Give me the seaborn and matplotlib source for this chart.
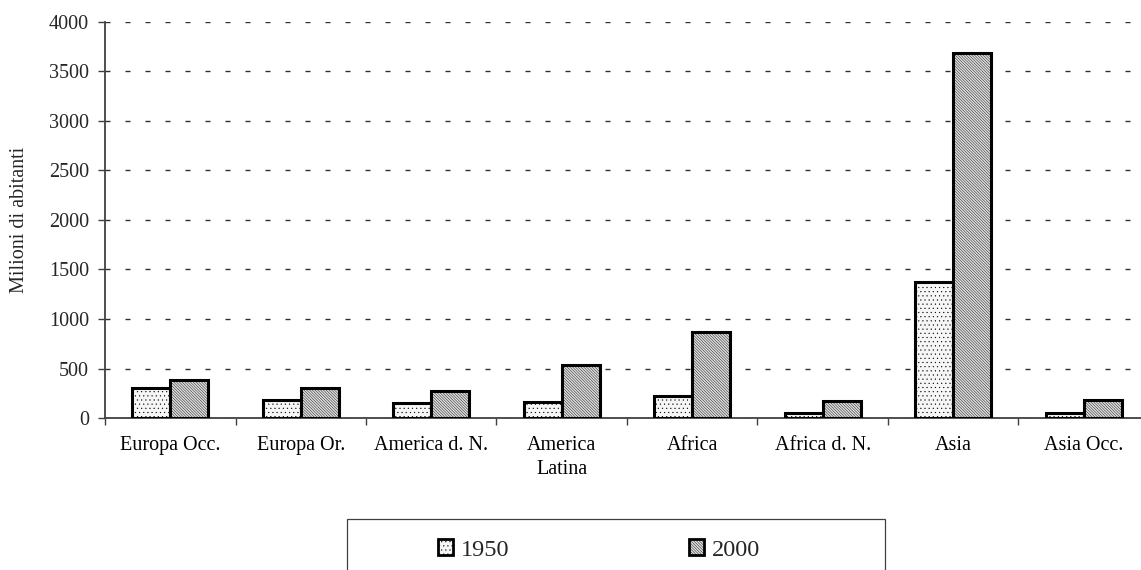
import matplotlib
matplotlib.use("Agg")
import matplotlib.pyplot as plt
import seaborn as sns
import pandas as pd
from matplotlib.patches import Patch, Rectangle
from matplotlib.ticker import FixedLocator, NullFormatter

# Popolazione per area geografica (milioni di abitanti)
categories = ["Europa Occ.", "Europa Or.", "America d. N.", "America\nLatina",
              "Africa", "Africa d. N.", "Asia", "Asia Occ."]
years = ["1950", "2000"]
pop_1950 = [302, 184, 147, 161, 224, 50, 1370, 50]
pop_2000 = [386, 308, 268, 535, 873, 174, 3690, 184]
y_ticks = [0, 500, 1000, 1500, 2000, 2500, 3000, 3500, 4000]

df = pd.DataFrame({
    "Area": categories * 2,
    "Anno": [years[0]] * len(categories) + [years[1]] * len(categories),
    "Abitanti": pop_1950 + pop_2000,
})

sns.set_style("white")
plt.rcParams["font.family"] = ["Liberation Serif", "DejaVu Serif"]
plt.rcParams["hatch.linewidth"] = 0.3

W, H = 1141, 570
fig = plt.figure(figsize=(W / 100, H / 100), dpi=100)
ax = fig.add_axes([105 / W, (H - 418) / H, 1044 / W, 396 / H])

face = {"1950": "#f6f6f6", "2000": "#dedede"}
hatches = {"1950": "....", "2000": "\\" * 12}

sns.barplot(data=df, x="Area", y="Abitanti", hue="Anno", order=categories,
            hue_order=years, palette=face, width=0.585, gap=0,
            edgecolor="black", linewidth=2.2, saturation=1,
            legend=False, ax=ax, zorder=3)

for yr, cont in zip(years, ax.containers):
    for bar in cont:
        bar.set_hatch(hatches[yr])
        bar.set_edgecolor("black")

ax.set_xlim(-0.5, len(categories) - 0.5)
ax.set_ylim(0, 4000)
ax.set_yticks(y_ticks)
ax.set_xlabel("")
ax.set_ylabel("")

# horizontal dashed grid
ax.set_axisbelow(True)
ax.yaxis.grid(True, color="#303030", linewidth=1.0, linestyle=(0, (3.6, 10.8)))
ax.xaxis.grid(False)

# category separators as minor ticks on x
ax.xaxis.set_minor_locator(FixedLocator([i + 0.5 for i in range(-1, len(categories))]))
ax.xaxis.set_minor_formatter(NullFormatter())
ax.tick_params(axis="x", which="major", length=0, pad=13, labelsize=14.5, colors="black")
ax.tick_params(axis="x", which="minor", direction="out", length=5, width=1.0,
               color="#404040", bottom=True)
ax.tick_params(axis="y", which="major", direction="out", length=5, width=1.0,
               color="#404040", pad=6.5, labelsize=14.5, left=True)
for lbl in ax.get_xticklabels():
    lbl.set_linespacing(1.35)

for s in ["top", "right"]:
    ax.spines[s].set_visible(False)
for s in ["left", "bottom"]:
    ax.spines[s].set_color("#404040")
    ax.spines[s].set_linewidth(1.3)

fig.text(20 / W, 1 - 220 / H, "Milioni di abitanti", rotation=90,
         ha="center", va="center", fontsize=14.5)

# legend box
fig.patches.append(Rectangle((347 / W, -0.05), (885 - 347) / W, 0.05 + (H - 519) / H,
                             transform=fig.transFigure, fill=False,
                             edgecolor="#404040", linewidth=0.9))
handles = [Patch(facecolor=face[y], edgecolor="black", hatch=hatches[y],
                 linewidth=2.0, label=y) for y in years]
fig.legend(handles=handles, loc="center left",
           bbox_to_anchor=(438 / W, 1 - 550 / H), ncol=2, frameon=False,
           fontsize=17.5, handlelength=0.62, handleheight=0.62,
           handletextpad=0.32, columnspacing=7.4, borderpad=0, borderaxespad=0)

fig.savefig("out.png", dpi=100)
